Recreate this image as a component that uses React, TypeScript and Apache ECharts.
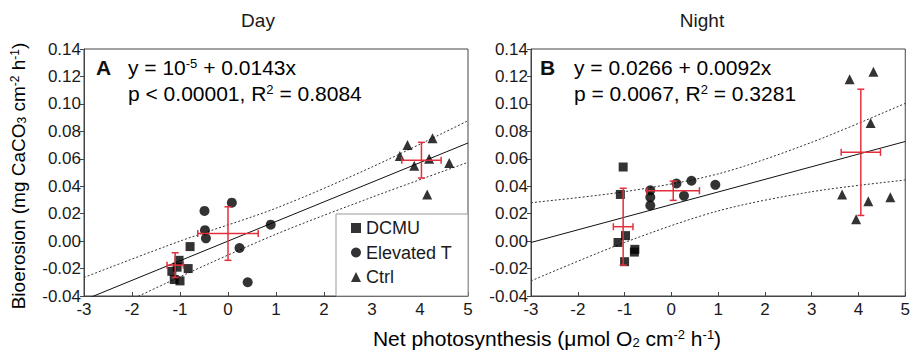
import React, { useEffect, useRef } from "react";
import * as echarts from "echarts";

// ---- Data ----
const dayDCMU = [[-0.79, -0.004], [-1.02, -0.014], [-1.06, -0.019], [-0.83, -0.020], [-1.17, -0.022], [-1.12, -0.028], [-1.0, -0.029]];
const dayElev = [[-0.49, 0.022], [0.08, 0.028], [-0.48, 0.008], [-0.46, 0.002], [0.24, -0.005], [0.89, 0.012], [0.41, -0.030]];
const dayCtrl = [[3.74, 0.070], [3.58, 0.062], [4.26, 0.075], [3.88, 0.055], [4.19, 0.060], [4.15, 0.034], [4.61, 0.057]];
// mean x, mean y, x error, y error
const dayMeans = [[-1.1, -0.0175, 0.17, 0.009], [0.0, 0.0055, 0.63, 0.0195], [4.03, 0.059, 0.41, 0.013]];
const dayFit = { intercept: 0.00001, slope: 0.0143 };
const dayBandX = [-3, -1, 1, 3, 5];
const dayUpper = [-0.0265, 0.0, 0.024, 0.054, 0.0877];
const dayLower = [-0.059, -0.026, 0.005, 0.032, 0.0574];

const nightDCMU = [[-1.03, 0.054], [-1.09, 0.034], [-0.98, 0.004], [-1.14, -0.001], [-0.78, -0.006], [-0.79, -0.008], [-1.0, -0.015]];
const nightElev = [[-0.45, 0.037], [-0.45, 0.032], [-0.45, 0.026], [0.11, 0.042], [0.43, 0.044], [0.27, 0.033], [0.94, 0.041]];
const nightCtrl = [[3.81, 0.118], [4.32, 0.1235], [4.26, 0.086], [3.65, 0.034], [4.21, 0.029], [4.68, 0.032], [3.95, 0.016]];
const nightMeans = [[-1.03, 0.0105, 0.21, 0.028], [0.04, 0.0367, 0.56, 0.007], [4.05, 0.0647, 0.42, 0.046]];
const nightFit = { intercept: 0.0266, slope: 0.0092 };
const nightBandX = [-3, -1, 1, 3, 5];
const nightUpper = [0.028, 0.036, 0.049, 0.072, 0.1004];
const nightLower = [-0.029, -0.001, 0.022, 0.036, 0.0445];

const xTicks = { min: -3, max: 5, interval: 1 };
const yTicks = { min: -0.04, max: 0.14, interval: 0.02 };

const FONT = "Liberation Sans, Arial, Helvetica, sans-serif";
const RED = "#e3303c";

export default function App() {
  const ref = useRef<HTMLDivElement>(null);
  useEffect(() => {
    if (!ref.current) return;
    const chart = echarts.init(ref.current, undefined, { renderer: "svg" });

    const fitLine = (f: { intercept: number; slope: number }) =>
      [xTicks.min, xTicks.max].map((x) => [x, f.intercept + f.slope * x]);
    const band = (xs: number[], ys: number[]) => xs.map((x, i) => [x, ys[i]]);

    const renderErr = (params: any, api: any) => {
      const x = api.value(0), y = api.value(1), ex = api.value(2), ey = api.value(3);
      const l = api.coord([x - ex, y]);
      const r = api.coord([x + ex, y]);
      const t = api.coord([x, y + ey]);
      const b = api.coord([x, y - ey]);
      const c = 3.5;
      const st = { stroke: RED, lineWidth: 1.5 };
      return {
        type: "group",
        children: [
          { type: "line", shape: { x1: l[0], y1: l[1], x2: r[0], y2: r[1] }, style: st },
          { type: "line", shape: { x1: t[0], y1: t[1], x2: b[0], y2: b[1] }, style: st },
          { type: "line", shape: { x1: l[0], y1: l[1] - c, x2: l[0], y2: l[1] + c }, style: st },
          { type: "line", shape: { x1: r[0], y1: r[1] - c, x2: r[0], y2: r[1] + c }, style: st },
          { type: "line", shape: { x1: t[0] - c, y1: t[1], x2: t[0] + c, y2: t[1] }, style: st },
          { type: "line", shape: { x1: b[0] - c, y1: b[1], x2: b[0] + c, y2: b[1] }, style: st },
        ],
      };
    };

    const xAxisBase = (gridIndex: number) => ({
      type: "value",
      gridIndex,
      min: xTicks.min,
      max: xTicks.max,
      interval: xTicks.interval,
      axisLine: { show: true, onZero: false, lineStyle: { color: "#444", width: 1 } },
      axisTick: { show: true, inside: true, length: 4, lineStyle: { color: "#444" } },
      axisLabel: { color: "#1a1a1a", fontSize: 17, fontFamily: FONT, margin: 6, lineHeight: 14 },
      splitLine: { show: false },
    });
    const yAxisBase = (gridIndex: number) => ({
      type: "value",
      gridIndex,
      min: yTicks.min,
      max: yTicks.max,
      interval: yTicks.interval,
      axisLine: { show: true, onZero: false, lineStyle: { color: "#444", width: 1 } },
      axisTick: { show: true, inside: false, length: 4, lineStyle: { color: "#444" } },
      axisLabel: { color: "#1a1a1a", fontSize: 17, fontFamily: FONT, margin: 3, lineHeight: 12, formatter: (v: number) => v.toFixed(2) },
      splitLine: { show: false },
    });

    const scat = (name: string, data: number[][], symbol: string, size: number, gi: number) => ({
      name,
      type: "scatter",
      xAxisIndex: gi,
      yAxisIndex: gi,
      data,
      symbol,
      symbolSize: size,
      itemStyle: { color: "#000" },
      z: 3,
    });
    const ln = (data: number[][], gi: number, dashed: boolean) => ({
      type: "line",
      xAxisIndex: gi,
      yAxisIndex: gi,
      data,
      symbol: "none",
      smooth: dashed ? 0.3 : false,
      clip: true,
      lineStyle: { color: dashed ? "#333" : "#111", width: 1, type: dashed ? [2, 2] : "solid" },
      z: 2,
      silent: true,
    });
    const err = (data: number[][], gi: number) => ({
      type: "custom",
      xAxisIndex: gi,
      yAxisIndex: gi,
      data,
      renderItem: renderErr,
      encode: { x: 0, y: 1 },
      z: 4,
      silent: true,
    });

    const rich = {
      n: { fontSize: 19, fontFamily: FONT, color: "#1a1a1a" },
      nx: { fontSize: 21, fontFamily: FONT, color: "#1a1a1a" },
      sup: { fontSize: 12, fontFamily: FONT, color: "#1a1a1a", verticalAlign: "top", lineHeight: 15 },
      sub: { fontSize: 12, fontFamily: FONT, color: "#1a1a1a", verticalAlign: "bottom", lineHeight: 15 },
      supx: { fontSize: 13, fontFamily: FONT, color: "#1a1a1a", verticalAlign: "top", lineHeight: 17 },
      subx: { fontSize: 13, fontFamily: FONT, color: "#1a1a1a", verticalAlign: "bottom", lineHeight: 17 },
      a: { fontSize: 21, fontFamily: FONT, color: "#111" },
      asup: { fontSize: 13, fontFamily: FONT, color: "#111", verticalAlign: "top", lineHeight: 16 },
    };

    chart.setOption({
      animation: false,
      backgroundColor: "#fff",
      grid: [
        { left: 84, top: 49, width: 384, height: 247, show: true, borderColor: "#444", borderWidth: 1, containLabel: false },
        { left: 531, top: 49, width: 381, height: 247, show: true, borderColor: "#444", borderWidth: 1, containLabel: false },
      ],
      xAxis: [xAxisBase(0), xAxisBase(1)],
      yAxis: [yAxisBase(0), yAxisBase(1)],
      legend: {
        data: [
          { name: "DCMU", icon: "rect" },
          { name: "Elevated T", icon: "circle" },
          { name: "Ctrl", icon: "triangle" },
        ],
        orient: "vertical",
        left: 351,
        top: 218,
        z: 10,
        itemWidth: 10,
        itemHeight: 10,
        itemGap: 4.5,
        padding: 0,
        textStyle: { fontSize: 18, fontFamily: FONT, color: "#1a1a1a", lineHeight: 20 },
        selectedMode: false,
      },
      series: [
        scat("DCMU", dayDCMU, "rect", 9, 0),
        scat("Elevated T", dayElev, "circle", 10, 0),
        scat("Ctrl", dayCtrl, "triangle", 10, 0),
        ln(fitLine(dayFit), 0, false),
        ln(band(dayBandX, dayUpper), 0, true),
        ln(band(dayBandX, dayLower), 0, true),
        err(dayMeans, 0),
        scat("DCMU", nightDCMU, "rect", 9, 1),
        scat("Elevated T", nightElev, "circle", 10, 1),
        scat("Ctrl", nightCtrl, "triangle", 10, 1),
        ln(fitLine(nightFit), 1, false),
        ln(band(nightBandX, nightUpper), 1, true),
        ln(band(nightBandX, nightLower), 1, true),
        err(nightMeans, 1),
      ],
      graphic: [
        { type: "rect", z: 1, shape: { x: 336, y: 214, width: 132, height: 82 }, style: { fill: "#fff", stroke: "#999", lineWidth: 1 } },
        { type: "text", x: 258, y: 20, style: { text: "Day", font: `19px ${FONT}`, fill: "#1a1a1a", align: "center", verticalAlign: "middle" } },
        { type: "text", x: 702, y: 20, style: { text: "Night", font: `19px ${FONT}`, fill: "#1a1a1a", align: "center", verticalAlign: "middle" } },
        { type: "text", x: 96, y: 67, style: { text: "A", font: `bold 21px ${FONT}`, fill: "#111", align: "left", verticalAlign: "middle" } },
        { type: "text", x: 540, y: 67, style: { text: "B", font: `bold 21px ${FONT}`, fill: "#111", align: "left", verticalAlign: "middle" } },
        {
          type: "text", x: 128, y: 67,
          style: { text: "{a|y = 10}{asup|-5}{a| + 0.0143x}", rich, align: "left", verticalAlign: "middle" },
        },
        {
          type: "text", x: 128, y: 93,
          style: { text: "{a|p < 0.00001, R}{asup|2}{a| = 0.8084}", rich, align: "left", verticalAlign: "middle" },
        },
        {
          type: "text", x: 574, y: 67,
          style: { text: "{a|y = 0.0266 + 0.0092x}", rich, align: "left", verticalAlign: "middle" },
        },
        {
          type: "text", x: 574, y: 93,
          style: { text: "{a|p = 0.0067, R}{asup|2}{a| = 0.3281}", rich, align: "left", verticalAlign: "middle" },
        },
        {
          type: "text", x: 547, y: 338,
          style: { text: "{nx|Net photosynthesis (μmol O}{subx|2}{nx| cm}{supx|-2}{nx| h}{supx|-1}{nx|)}", rich, align: "center", verticalAlign: "middle" },
        },
        {
          type: "text", x: 18, y: 176, rotation: Math.PI / 2,
          style: { text: "{n|Bioerosion (mg CaCO}{sub|3}{n| cm}{sup|-2}{n| h}{sup|-1}{n|)}", rich, align: "center", verticalAlign: "middle" },
        },
      ],
    });
    return () => chart.dispose();
  }, []);
  return <div ref={ref} style={{ position: "fixed", left: 0, top: 0, width: 913, height: 355 }} />;
}
